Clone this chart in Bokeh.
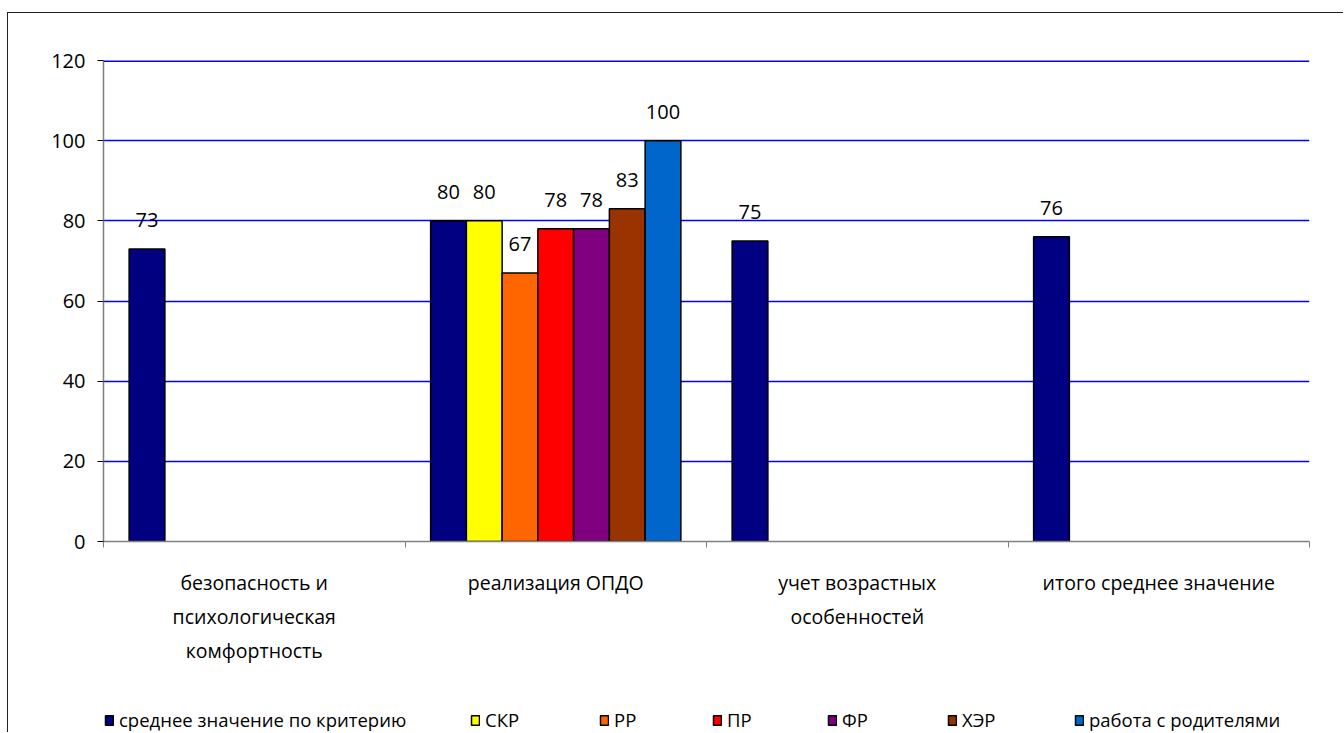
from bokeh.plotting import figure
from bokeh.layouts import column
from bokeh.models import Range1d, FixedTicker, Span, Legend, LegendItem, ColumnDataSource
from bokeh.core.properties import value
from bokeh.embed import file_html
from bokeh.resources import INLINE

categories = ["безопасность и\nпсихологическая\nкомфортность", "реализация ОПДО",
              "учет возрастных\nособенностей", "итого среднее значение"]
series_names = ["среднее значение по критерию", "СКР", "РР", "ПР", "ФР", "ХЭР", "работа с родителями"]
series_colors = ["#000080", "#FFFF00", "#FF6600", "#FF0000", "#800080", "#993300", "#0066CC"]
avg_values = [73, 80, 75, 76]
skr_values = [None, 80, None, None]
rr_values = [None, 67, None, None]
pr_values = [None, 78, None, None]
fr_values = [None, 78, None, None]
her_values = [None, 83, None, None]
parents_values = [None, 100, None, None]
y_ticks = [0, 20, 40, 60, 80, 100, 120]

all_series = [avg_values, skr_values, rr_values, pr_values, fr_values, her_values, parents_values]

FONT = "Open Sans"
n_series = len(series_names)
cluster = 0.83
slot = cluster / n_series
BORDER = "1.5px solid #222"

p = figure(frame_width=1205, frame_height=480, output_backend="svg", toolbar_location=None,
           x_range=Range1d(0, len(categories)), y_range=Range1d(0, 120),
           min_border_left=95, min_border_right=35, min_border_top=47, min_border_bottom=140,
           outline_line_color=None,
           styles={"margin-left": "7px", "margin-top": "12px",
                   "border-top": BORDER, "border-left": BORDER})

# axes
p.xaxis.ticker = FixedTicker(ticks=[i + 0.5 for i in range(len(categories))],
                             minor_ticks=list(range(len(categories) + 1)))
p.xaxis.major_label_overrides = {i + 0.5: c for i, c in enumerate(categories)}
p.xaxis.major_tick_line_color = None
p.xaxis.major_tick_out = 0
p.xaxis.major_tick_in = 0
p.xaxis.minor_tick_out = 6
p.xaxis.minor_tick_in = 0
p.xaxis.minor_tick_line_color = "#808080"
p.xaxis.axis_line_color = "#808080"
p.xaxis.axis_line_width = 1.5
p.xaxis.major_label_text_font = FONT
p.xaxis.major_label_text_font_size = "19.5px"
p.xaxis.major_label_text_color = "black"
p.xaxis.major_label_text_line_height = 1.27
p.xaxis.major_label_standoff = 21

p.yaxis.ticker = FixedTicker(ticks=y_ticks)
p.yaxis.minor_tick_line_color = None
p.yaxis.major_tick_out = 6
p.yaxis.major_tick_in = 0
p.yaxis.major_tick_line_color = "black"
p.yaxis.axis_line_color = "#808080"
p.yaxis.axis_line_width = 1.5
p.yaxis.major_label_text_font = FONT
p.yaxis.major_label_text_font_size = "20px"
p.yaxis.major_label_text_color = "black"
p.yaxis.major_label_standoff = 12

p.xgrid.grid_line_color = None
p.ygrid.ticker = FixedTicker(ticks=[t for t in y_ticks if 0 < t < 120])
p.ygrid.grid_line_color = "#0000FF"
p.ygrid.grid_line_width = 1.3
p.add_layout(Span(location=120, dimension="width", line_color="#0000FF", line_width=3))

for k, (name, color, vals) in enumerate(zip(series_names, series_colors, all_series)):
    xs, tops = [], []
    for i, v in enumerate(vals):
        if v is not None:
            xs.append(i + 0.5 + (k - (n_series - 1) / 2) * slot)
            tops.append(v)
    src = ColumnDataSource(dict(x=xs, top=tops, label=[str(t) for t in tops]))
    p.vbar(x="x", top="top", width=slot, bottom=0, source=src,
           fill_color=color, line_color="black", line_width=1.5)
    p.text(x="x", y="top", text="label", source=src, text_align="center",
           text_baseline="bottom", y_offset=-22, text_font=value(FONT),
           text_font_size="20px", text_color="black")

# legend strip below the chart (its frame is aligned with the chart's frame)
lp = figure(width=1335, height=52, output_backend="svg", toolbar_location=None,
            x_range=Range1d(0, 1), y_range=Range1d(0, 1), min_border=0,
            outline_line_color=None,
            styles={"margin-left": "7px", "border-left": BORDER})
lp.axis.visible = False
lp.grid.visible = False

legend_x = [1, 367, 496, 609, 724, 844, 971]
for name, color, lx in zip(series_names, series_colors, legend_x):
    # swatch-only renderer: its single bar has no height value, so nothing is drawn
    r = lp.vbar(x=[0.5], top=[float("nan")], width=0.1,
                fill_color=color, line_color="black", line_width=1.5)
    lp.add_layout(Legend(items=[LegendItem(label=name, renderers=[r])], location=(lx, 0),
                         label_text_font=FONT, label_text_font_size="18.5px",
                         label_text_color="black", glyph_width=10, glyph_height=12,
                         label_standoff=5, border_line_color=None,
                         background_fill_alpha=0, margin=0, padding=0))

layout = column(p, lp, spacing=0)
open("out.html", "w").write(file_html(layout, INLINE))
